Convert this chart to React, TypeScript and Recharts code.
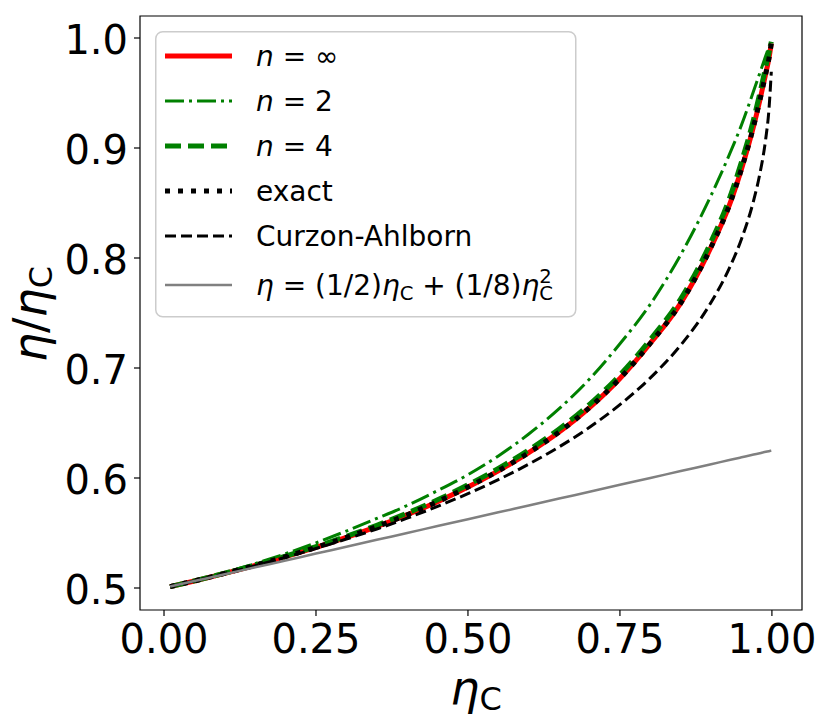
import { LineChart, Line, XAxis, YAxis, Legend, ReferenceArea, Label } from 'recharts';

// efficiency ratio eta/eta_C
const etaC = [0.01, 0.05, 0.1, 0.15, 0.2, 0.25, 0.3, 0.35, 0.4, 0.45, 0.5, 0.55, 0.6, 0.65, 0.7, 0.75, 0.8, 0.85, 0.9, 0.93, 0.95, 0.97, 0.98, 0.99, 0.995, 0.999];
const nInf = [0.5013, 0.5064, 0.5133, 0.5206, 0.5285, 0.5369, 0.546, 0.5558, 0.5666, 0.5785, 0.5918, 0.6065, 0.623, 0.6418, 0.664, 0.6905, 0.7225, 0.759, 0.81, 0.848, 0.881, 0.92, 0.943, 0.968, 0.981, 0.995];
const n2 = [0.5013, 0.5066, 0.514, 0.5222, 0.5312, 0.541, 0.5518, 0.5632, 0.575, 0.5885, 0.603, 0.62, 0.64, 0.663, 0.69, 0.722, 0.758, 0.803, 0.857, 0.894, 0.921, 0.952, 0.968, 0.984, 0.992, 0.998];
const n4 = [0.5013, 0.5065, 0.5135, 0.5209, 0.529, 0.5376, 0.547, 0.557, 0.5681, 0.5802, 0.5938, 0.6087, 0.6255, 0.6446, 0.667, 0.6937, 0.726, 0.763, 0.815, 0.854, 0.8875, 0.9265, 0.9495, 0.974, 0.986, 0.9965];
const exact = [0.5013, 0.5064, 0.5133, 0.5206, 0.5285, 0.5369, 0.546, 0.5558, 0.5666, 0.5785, 0.5918, 0.6065, 0.623, 0.6418, 0.664, 0.6905, 0.7225, 0.759, 0.81, 0.848, 0.881, 0.92, 0.943, 0.968, 0.981, 0.995];
const curzonAhlborn = [0.5013, 0.5064, 0.5132, 0.5203, 0.5279, 0.5359, 0.5445, 0.5536, 0.5635, 0.5742, 0.5858, 0.5985, 0.6126, 0.6283, 0.6461, 0.6667, 0.691, 0.7208, 0.7597, 0.7908, 0.8173, 0.8524, 0.8761, 0.9091, 0.934, 0.9693];
const quadratic = [0.5013, 0.5063, 0.5125, 0.5188, 0.525, 0.5313, 0.5375, 0.5438, 0.55, 0.5563, 0.5625, 0.5688, 0.575, 0.5813, 0.5875, 0.5938, 0.6, 0.6063, 0.6125, 0.6163, 0.6188, 0.6213, 0.6225, 0.6238, 0.6244, 0.6249];

const xTicks = [0, 0.25, 0.5, 0.75, 1];
const yTicks = [0.5, 0.6, 0.7, 0.8, 0.9, 1.0];

const rows = etaC.map((x, i) => ({
    x,
    nInf: nInf[i],
    n2: n2[i],
    n4: n4[i],
    exact: exact[i],
    ca: curzonAhlborn[i],
    quad: quadratic[i],
}));

const FONT = '"DejaVu Sans", sans-serif';

const series = [
    { key: 'nInf', color: '#ff0000', width: 5, dash: undefined },
    { key: 'n2', color: '#008000', width: 3, dash: '19 5 3 5' },
    { key: 'n4', color: '#008000', width: 5, dash: '16 7' },
    { key: 'exact', color: '#000000', width: 5, dash: '5 8' },
    { key: 'ca', color: '#000000', width: 3, dash: '11 5' },
    { key: 'quad', color: '#808080', width: 2.5, dash: undefined },
];

const legendRows = [25, 70, 115, 160, 205, 254];

function legendText(key: string) {
    const it = { fontStyle: 'italic' as const };
    if (key === 'nInf') return [<tspan key="a" {...it}>n</tspan>, <tspan key="b"> = ∞</tspan>];
    if (key === 'n2') return [<tspan key="a" {...it}>n</tspan>, <tspan key="b"> = 2</tspan>];
    if (key === 'n4') return [<tspan key="a" {...it}>n</tspan>, <tspan key="b"> = 4</tspan>];
    if (key === 'exact') return [<tspan key="a">exact</tspan>];
    if (key === 'ca') return [<tspan key="a">Curzon-Ahlborn</tspan>];
    return [
        <tspan key="a" {...it}>η</tspan>,
        <tspan key="b"> = (1/2)</tspan>,
        <tspan key="c" {...it}>η</tspan>,
        <tspan key="d" fontSize={19.6} dy={5}>C</tspan>,
        <tspan key="e" dy={-5}> + (1/8)</tspan>,
        <tspan key="f" {...it}>η</tspan>,
        <tspan key="g" fontSize={19.6} dy={5}>C</tspan>,
        <tspan key="h" fontSize={19.6} dx={-13.7} dy={-17}>2</tspan>,
    ];
}

function LegendBox() {
    return (
        <svg width={422} height={288}>
            <rect x={0.75} y={0.75} width={420} height={285} rx={7} fill="#fff" fillOpacity={0.8} stroke="#cccccc" strokeWidth={1.5} />
            {series.map((s, i) => (
                <g key={s.key}>
                    <line x1={10} x2={77} y1={legendRows[i]} y2={legendRows[i]} stroke={s.color} strokeWidth={s.width} strokeDasharray={s.dash} />
                    <text x={101} y={legendRows[i] + 10} fontFamily={FONT} fontSize={28} fill="#000">
                        {legendText(s.key)}
                    </text>
                </g>
            ))}
        </svg>
    );
}

const XTick = (props: any) => (
    <text x={props.x} y={props.y + 37} textAnchor="middle" fontFamily={FONT} fontSize={40} fill="#000">
        {Number(props.payload.value).toFixed(2)}
    </text>
);

const YTick = (props: any) => (
    <text x={props.x - 6} y={props.y + 16} textAnchor="end" fontFamily={FONT} fontSize={40} fill="#000">
        {Number(props.payload.value).toFixed(1)}
    </text>
);

export default function App() {
    return (
        <div style={{ position: 'absolute', left: 0, top: 0, width: 830, height: 725, background: '#fff' }}>
            <LineChart width={830} height={725} data={rows} margin={{ top: 16, right: 28, bottom: 5, left: 5 }}>
                <XAxis
                    dataKey="x"
                    type="number"
                    domain={[-0.0395, 1.0495]}
                    ticks={xTicks}
                    allowDataOverflow
                    height={110}
                    axisLine={false}
                    tickLine={{ stroke: '#000', strokeWidth: 1.2 }}
                    tickSize={6}
                    tickMargin={0}
                    tick={XTick}
                    interval={0}
                >
                    <Label
                        content={() => (
                            <text x={476} y={704} textAnchor="middle" fontFamily={FONT} fontSize={46} fill="#000">
                                <tspan fontStyle="italic">η</tspan>
                                <tspan fontSize={32} dy={6}>C</tspan>
                            </text>
                        )}
                    />
                </XAxis>
                <YAxis
                    type="number"
                    domain={[0.48, 1.02]}
                    ticks={yTicks}
                    allowDataOverflow
                    width={135}
                    axisLine={false}
                    tickLine={{ stroke: '#000', strokeWidth: 1.2 }}
                    tickSize={6}
                    tickMargin={0}
                    tick={YTick}
                    interval={0}
                >
                    <Label
                        content={() => (
                            <text transform="translate(46,314) rotate(-90)" textAnchor="middle" fontFamily={FONT} fontSize={46} fill="#000">
                                <tspan fontStyle="italic">η</tspan>
                                <tspan>/</tspan>
                                <tspan fontStyle="italic">η</tspan>
                                <tspan fontSize={32} dy={6}>C</tspan>
                            </text>
                        )}
                    />
                </YAxis>
                {series.map((s) => (
                    <Line
                        key={s.key}
                        dataKey={s.key}
                        type="monotone"
                        stroke={s.color}
                        strokeWidth={s.width}
                        strokeDasharray={s.dash}
                        dot={false}
                        activeDot={false}
                        isAnimationActive={false}
                    />
                ))}
                <ReferenceArea x1={-0.0395} x2={1.0495} y1={0.48} y2={1.02} fill="none" stroke="#000" strokeWidth={1.2} />
                <Legend
                    layout="horizontal"
                    verticalAlign="middle"
                    align="center"
                    content={LegendBox}
                    wrapperStyle={{ left: 155, top: 31, width: 422, height: 288 }}
                />
            </LineChart>
        </div>
    );
}
